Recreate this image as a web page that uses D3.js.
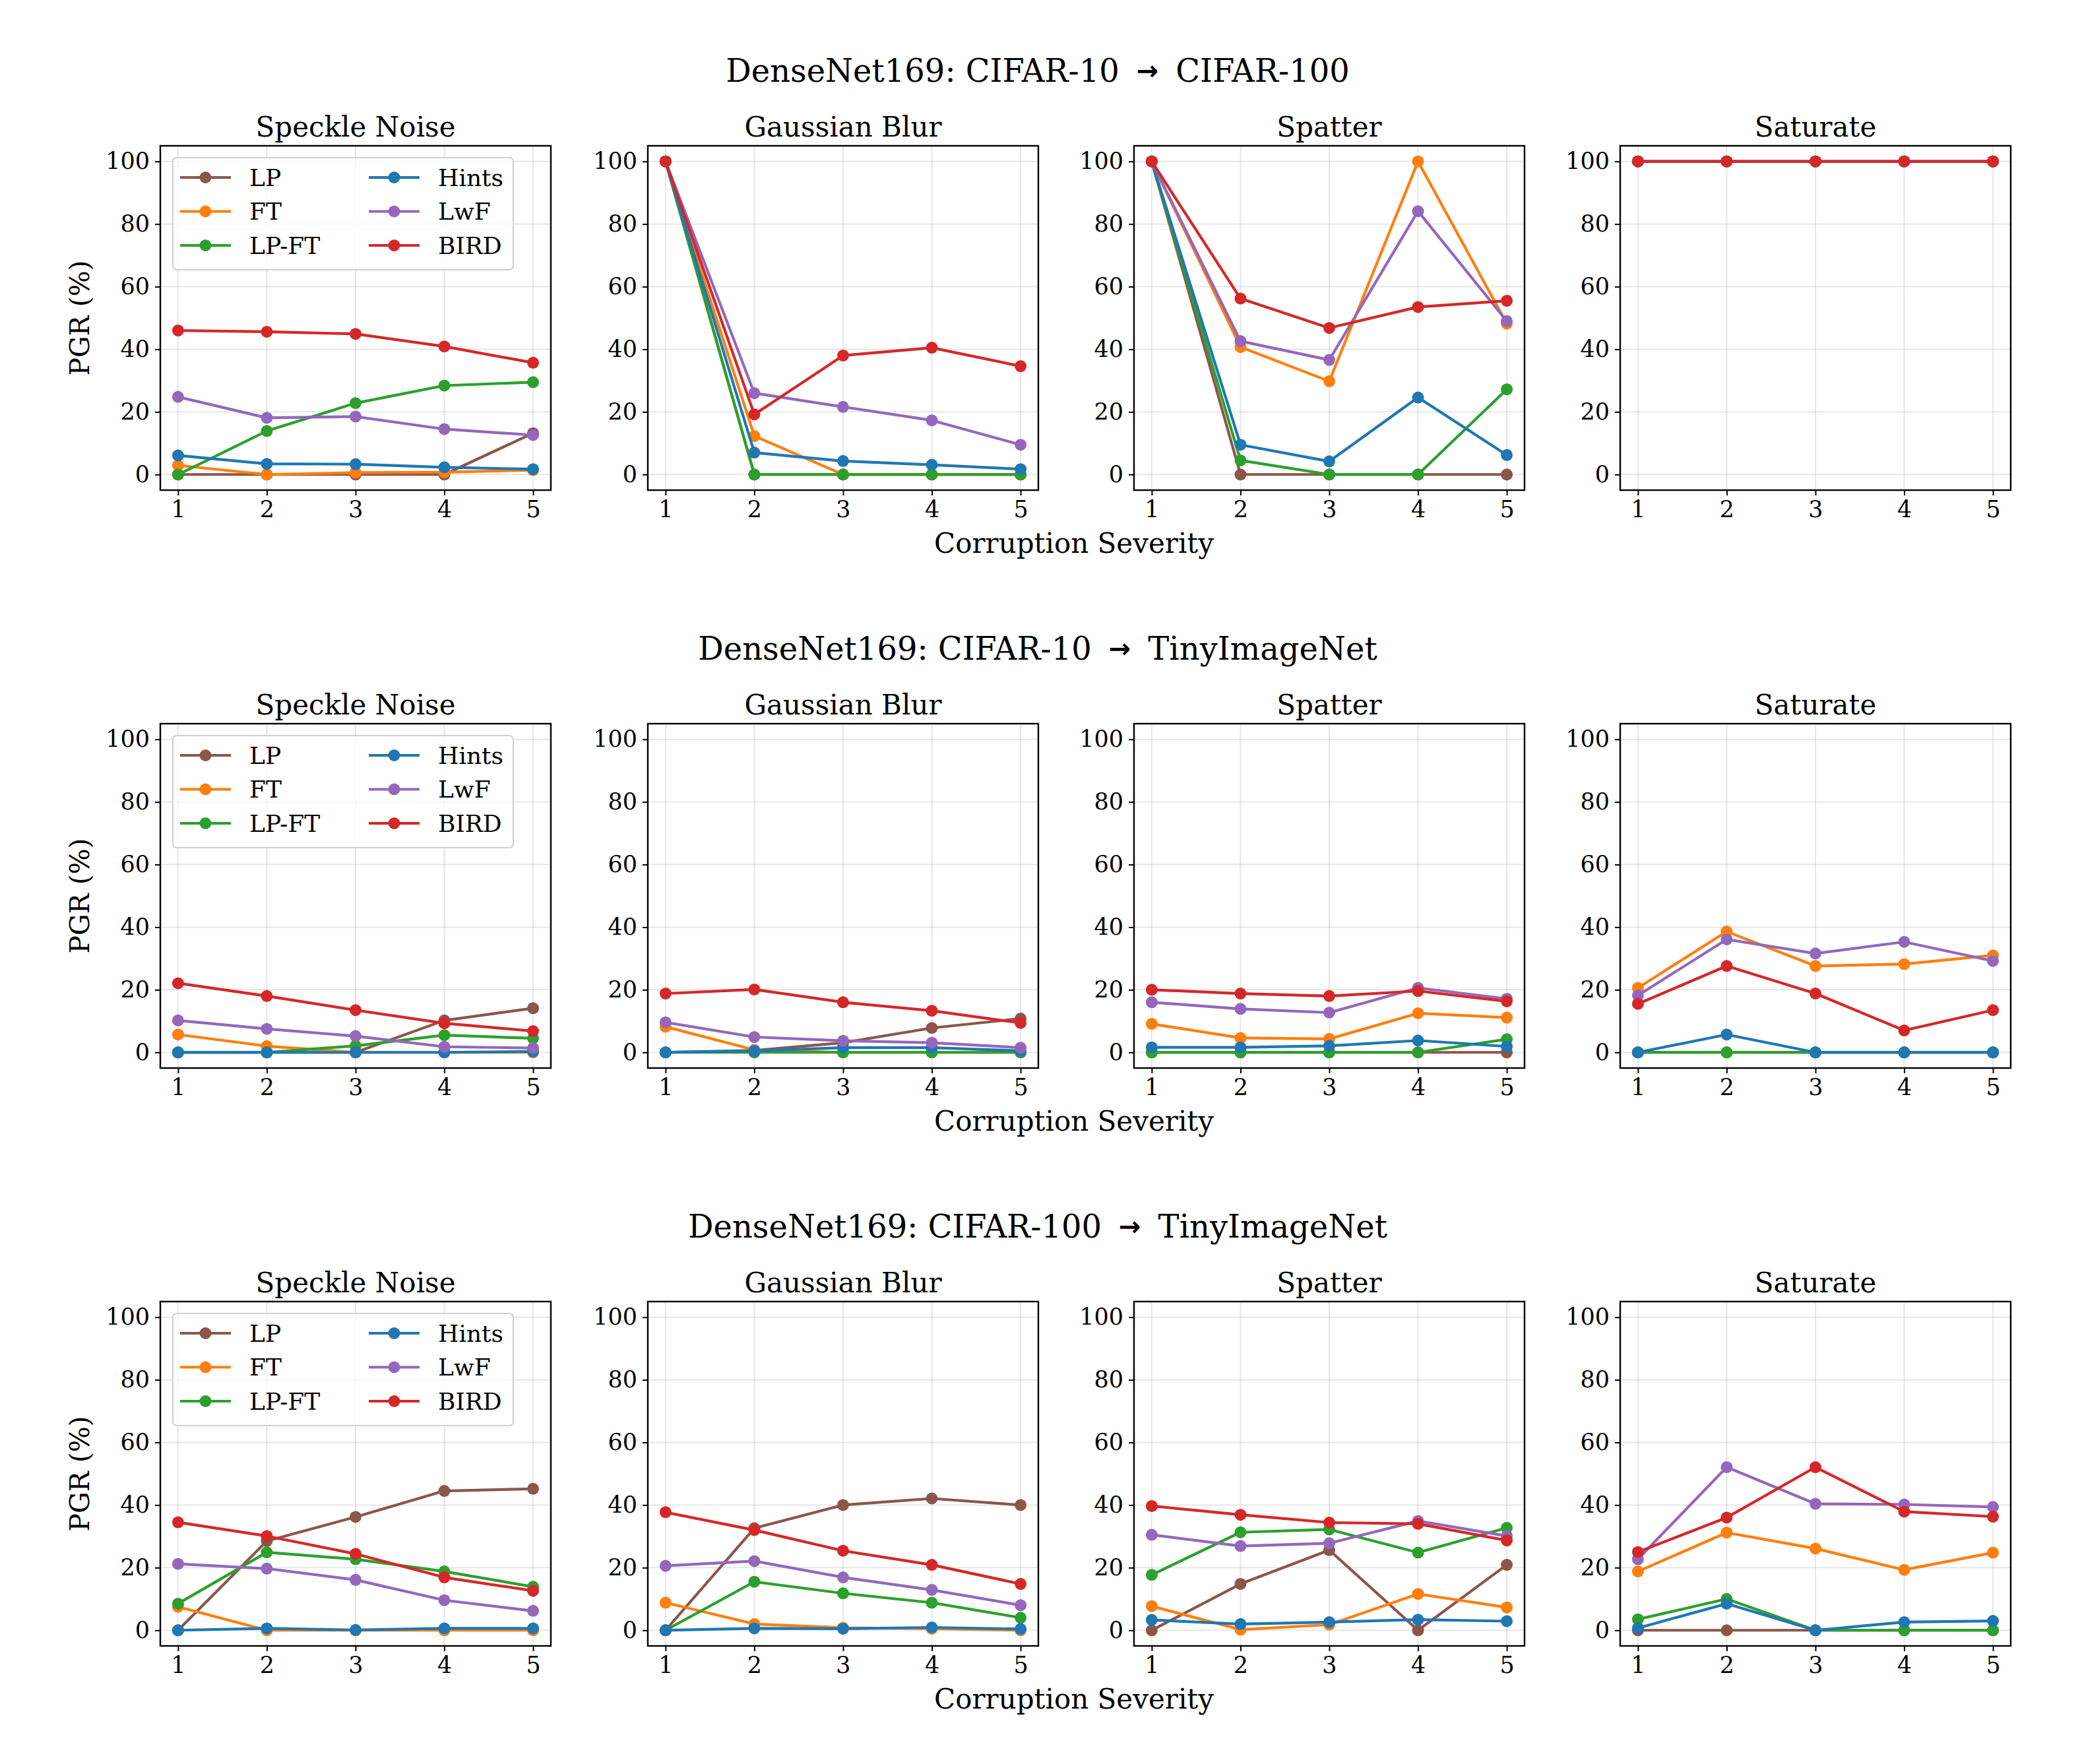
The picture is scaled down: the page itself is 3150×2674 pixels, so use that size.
<!DOCTYPE html>
<html>
<head>
<meta charset="utf-8">
<script src="https://cdn.jsdelivr.net/npm/d3@7"></script>
<style>
  body { margin: 0; background: #fff; }
  text { font-family: "DejaVu Serif", serif; fill: #000; }
</style>
</head>
<body>
<div id="chart"></div>
<script>
// DATA
const methods = ['LP', 'FT', 'LP-FT', 'Hints', 'LwF', 'BIRD'];
const colors = ['#8c564b', '#ff7f0e', '#2ca02c', '#1f77b4', '#9467bd', '#d62728'];
const corruptions = ['Speckle Noise', 'Gaussian Blur', 'Spatter', 'Saturate'];
const settings = ['DenseNet169: CIFAR-10 \u2192 CIFAR-100',
                  'DenseNet169: CIFAR-10 \u2192 TinyImageNet',
                  'DenseNet169: CIFAR-100 \u2192 TinyImageNet'];
const severities = [1, 2, 3, 4, 5];
const yTicks = [0, 20, 40, 60, 80, 100];

// rows follow methods order: LP, FT, LP-FT, Hints, LwF, BIRD
const c10c100_speckle = [
  [0, 0, 0, 0, 13.2],
  [2.9, 0, 0.6, 0.7, 1.4],
  [0, 13.9, 22.8, 28.4, 29.5],
  [6.1, 3.4, 3.3, 2.3, 1.7],
  [24.8, 18.1, 18.5, 14.5, 12.6],
  [46.0, 45.6, 44.9, 40.9, 35.7]
];
const c10c100_blur = [
  [100, 0, 0, 0, 0],
  [100, 12.3, 0, 0, 0],
  [100, 0, 0, 0, 0],
  [100, 7.0, 4.3, 3.1, 1.7],
  [100, 26.0, 21.6, 17.3, 9.5],
  [100, 19.2, 38.0, 40.5, 34.6]
];
const c10c100_spatter = [
  [100, 0, 0, 0, 0],
  [100, 40.7, 29.8, 100, 48.2],
  [100, 4.5, 0, 0, 27.2],
  [100, 9.5, 4.2, 24.6, 6.2],
  [100, 42.6, 36.6, 84.1, 49.0],
  [100, 56.2, 46.8, 53.5, 55.5]
];
const c10c100_saturate = [
  [100, 100, 100, 100, 100],
  [100, 100, 100, 100, 100],
  [100, 100, 100, 100, 100],
  [100, 100, 100, 100, 100],
  [100, 100, 100, 100, 100],
  [100, 100, 100, 100, 100]
];

const c10tiny_speckle = [
  [0, 0, 0, 10.2, 14.1],
  [5.7, 2.0, 0, 0, 0],
  [0, 0, 2.1, 5.5, 4.5],
  [0, 0, 0, 0, 0.3],
  [10.2, 7.5, 5.2, 1.8, 1.4],
  [22.1, 18.0, 13.5, 9.3, 6.8]
];
const c10tiny_blur = [
  [0, 0.6, 3.1, 7.8, 10.8],
  [8.2, 0.8, 0, 0, 0],
  [0, 0, 0, 0, 0],
  [0, 0.5, 1.5, 1.5, 0.5],
  [9.6, 4.9, 3.7, 3.1, 1.5],
  [18.8, 20.1, 16.0, 13.3, 9.4]
];
const c10tiny_spatter = [
  [0, 0, 0, 0, 0],
  [9.1, 4.6, 4.3, 12.5, 11.1],
  [0, 0, 0, 0, 4.2],
  [1.6, 1.6, 2.1, 3.8, 1.9],
  [16.0, 13.9, 12.7, 20.6, 17.1],
  [20.0, 18.8, 18.0, 19.6, 16.3]
];
const c10tiny_saturate = [
  [0, 0, 0, 0, 0],
  [20.6, 38.6, 27.6, 28.2, 31.0],
  [0, 0, 0, 0, 0],
  [0, 5.7, 0, 0, 0],
  [18.2, 36.1, 31.6, 35.3, 29.2],
  [15.5, 27.6, 18.8, 7.0, 13.5]
];

const c100tiny_speckle = [
  [0, 28.5, 36.2, 44.5, 45.2],
  [7.5, 0, 0, 0, 0],
  [8.5, 24.9, 22.7, 18.8, 13.9],
  [0, 0.6, 0.1, 0.6, 0.6],
  [21.2, 19.7, 16.1, 9.6, 6.2],
  [34.5, 30.1, 24.4, 16.9, 12.6]
];
const c100tiny_blur = [
  [0, 32.6, 40.0, 42.1, 40.0],
  [8.8, 2.0, 0.8, 0.5, 0],
  [0, 15.5, 11.8, 8.8, 4.0],
  [0, 0.6, 0.5, 0.9, 0.4],
  [20.6, 22.1, 16.9, 12.9, 8.0],
  [37.7, 32.0, 25.4, 20.9, 14.8]
];
const c100tiny_spatter = [
  [0, 14.8, 25.6, 0, 20.9],
  [7.7, 0.2, 1.8, 11.6, 7.3],
  [17.7, 31.3, 32.2, 24.8, 32.7],
  [3.3, 2.0, 2.6, 3.4, 2.9],
  [30.5, 26.9, 27.8, 34.9, 30.1],
  [39.7, 36.9, 34.4, 34.0, 28.7]
];
const c100tiny_saturate = [
  [0, 0, 0, 0, 0],
  [18.8, 31.2, 26.1, 19.3, 24.8],
  [3.5, 10.0, 0, 0, 0],
  [0.7, 8.5, 0, 2.6, 3.0],
  [22.7, 52.1, 40.4, 40.2, 39.4],
  [25.0, 36.0, 52.1, 37.9, 36.3]
];

const panels = [
  [c10c100_speckle, c10c100_blur, c10c100_spatter, c10c100_saturate],
  [c10tiny_speckle, c10tiny_blur, c10tiny_spatter, c10tiny_saturate],
  [c100tiny_speckle, c100tiny_blur, c100tiny_spatter, c100tiny_saturate]
];

// LAYOUT
const W = 3150, H = 2674;
const colLeft = [243, 982, 1719, 2456];
const rowTop = [221, 1097, 1973];
const pw = 592, ph = 522;

const svg = d3.select('#chart').append('svg')
  .attr('width', W).attr('height', H)
  .attr('viewBox', '0 0 ' + W + ' ' + H);

svg.append('rect').attr('width', W).attr('height', H).attr('fill', '#fff');

const x = d3.scaleLinear().domain([0.8, 5.2]).range([0, pw]);
const y = d3.scaleLinear().domain([-5, 105]).range([ph, 0]);

const line = d3.line()
  .x(function(d, i) { return x(severities[i]); })
  .y(function(d) { return y(d); });

settings.forEach(function(setting, r) {
  // suptitle, arrow drawn like a mathtext \rightarrow
  const parts = setting.split(' \u2192 ');
  const st = svg.append('text')
    .attr('x', 1573).attr('y', rowTop[r] - 114)
    .attr('text-anchor', 'middle').attr('dominant-baseline', 'central')
    .style('font-size', '48px');
  st.append('tspan').text(parts[0]);
  st.append('tspan').attr('dx', 26)
    .style('font-family', '"DejaVu Sans", sans-serif').style('font-weight', 'bold')
    .style('font-size', '40px')
    .text('\u2192');
  st.append('tspan').attr('dx', 26).text(parts[1]);

  svg.append('text')
    .attr('x', 1628).attr('y', rowTop[r] + ph + 80)
    .attr('text-anchor', 'middle').attr('dominant-baseline', 'central')
    .style('font-size', '42px')
    .text('Corruption Severity');

  svg.append('text')
    .attr('transform', 'translate(121,' + (rowTop[r] + ph / 2) + ') rotate(-90)')
    .attr('text-anchor', 'middle').attr('dominant-baseline', 'central')
    .style('font-size', '41px')
    .text('PGR (%)');

  corruptions.forEach(function(corr, c) {
    const g = svg.append('g')
      .attr('transform', 'translate(' + colLeft[c] + ',' + rowTop[r] + ')');

    g.append('text')
      .attr('x', pw / 2).attr('y', -29)
      .attr('text-anchor', 'middle').attr('dominant-baseline', 'central')
      .style('font-size', '42px')
      .text(corr);

    // grid
    g.selectAll('.gx').data(severities).enter().append('line')
      .attr('x1', function(d) { return x(d); }).attr('x2', function(d) { return x(d); })
      .attr('y1', 0).attr('y2', ph)
      .attr('stroke', '#b0b0b0').attr('stroke-opacity', 0.3).attr('stroke-width', 2);
    g.selectAll('.gy').data(yTicks).enter().append('line')
      .attr('x1', 0).attr('x2', pw)
      .attr('y1', function(d) { return y(d); }).attr('y2', function(d) { return y(d); })
      .attr('stroke', '#b0b0b0').attr('stroke-opacity', 0.3).attr('stroke-width', 2);

    // axes
    const xAxis = g.append('g').attr('transform', 'translate(0,' + ph + ')')
      .call(d3.axisBottom(x).tickValues(severities).tickFormat(d3.format('d'))
        .tickSize(8).tickPadding(8).tickSizeOuter(0));
    const yAxis = g.append('g')
      .call(d3.axisLeft(y).tickValues(yTicks).tickSize(8).tickPadding(8).tickSizeOuter(0));
    [xAxis, yAxis].forEach(function(a) {
      a.select('.domain').remove();
      a.selectAll('line').attr('stroke', '#000').attr('stroke-width', 2);
      a.selectAll('text').style('font-size', '35px').style('font-family', '"DejaVu Serif", serif');
    });

    // series
    const data = panels[r][c];
    data.forEach(function(vals, m) {
      g.append('path')
        .datum(vals)
        .attr('d', line)
        .attr('fill', 'none')
        .attr('stroke', colors[m])
        .attr('stroke-width', 4.2)
        .attr('stroke-linejoin', 'round');
      g.selectAll('.pt-' + m).data(vals).enter().append('circle')
        .attr('cx', function(d, i) { return x(severities[i]); })
        .attr('cy', function(d) { return y(d); })
        .attr('r', 9)
        .attr('fill', colors[m]);
    });

    g.append('rect')
      .attr('width', pw).attr('height', ph)
      .attr('fill', 'none').attr('stroke', '#000').attr('stroke-width', 2.4);

    // legend in first panel
    if (c === 0) {
      const lg = g.append('g').attr('transform', 'translate(19,18)');
      lg.append('rect')
        .attr('width', 516).attr('height', 170).attr('rx', 6)
        .attr('fill', '#fff').attr('fill-opacity', 0.8)
        .attr('stroke', '#d0d0d0').attr('stroke-width', 2);
      methods.forEach(function(name, m) {
        const col = Math.floor(m / 3), row = m % 3;
        const ox = col === 0 ? 11 : 297;
        const oy = 30 + row * 51.5;
        lg.append('line')
          .attr('x1', ox).attr('x2', ox + 77).attr('y1', oy).attr('y2', oy)
          .attr('stroke', colors[m]).attr('stroke-width', 4.2);
        lg.append('circle')
          .attr('cx', ox + 38.5).attr('cy', oy).attr('r', 9).attr('fill', colors[m]);
        lg.append('text')
          .attr('x', ox + 105).attr('y', oy)
          .attr('dominant-baseline', 'central')
          .style('font-size', '36px')
          .text(name);
      });
    }
  });
});
</script>
</body>
</html>
